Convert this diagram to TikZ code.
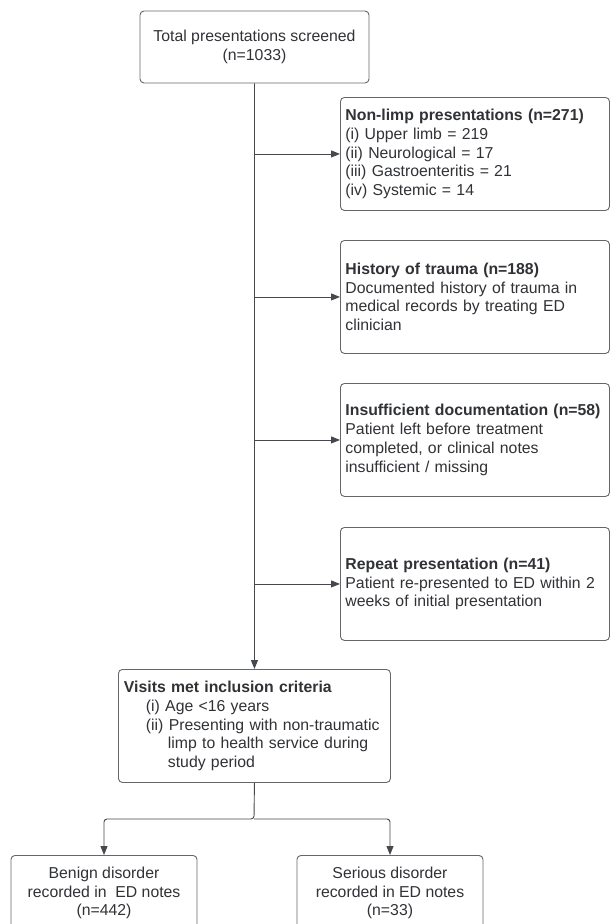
\documentclass[tikz,border=0pt]{standalone}
\usepackage{fontspec}
\setmainfont{Liberation Sans}
\usetikzlibrary{arrows.meta,positioning}
\definecolor{linegray}{HTML}{45484C}
\definecolor{boxgray}{HTML}{63666A}
\definecolor{txtgray}{HTML}{303236}

\begin{document}
\begin{tikzpicture}[x=1pt,y=-1pt,>={Triangle[length=9pt,width=7pt]},
  every node/.style={font=\fontsize{15.8}{18.7}\selectfont,text=txtgray},
  fbox/.style={draw=boxgray,rounded corners=4pt,line width=0.9pt},
  sidebox/.style={fbox,anchor=north west,minimum width=269pt,minimum height=113pt,
    inner xsep=5pt,text width=259pt,align=left}]
\useasboundingbox[fill=white] (0,0) rectangle (610,924);

% screening
\node[fbox,minimum width=229pt,minimum height=72pt,align=center] (total) at (254.5,47)
  {Total presentations screened\\(n=1033)};

% exclusions
\node[sidebox] (nonlimp) at (340,97) {\textbf{Non-limp presentations (n=271)}\\
  (i) Upper limb = 219\\(ii) Neurological = 17\\(iii) Gastroenteritis = 21\\(iv) Systemic = 14};
\node[sidebox] (trauma) at (340,240) {\textbf{History of trauma (n=188)}\\
  Documented history of trauma in\\medical records by treating ED\\clinician};
\node[sidebox] (docs) at (340,383) {\textbf{Insufficient documentation (n=58)}\\
  Patient left before treatment\\completed, or clinical notes\\insufficient / missing};
\node[sidebox] (repeatp) at (340,527) {\textbf{Repeat presentation (n=41)}\\
  Patient re-presented to ED within 2\\weeks of initial presentation};

% included
\node[fbox,anchor=north west,minimum width=272pt,minimum height=113pt,
  text width=261pt,align=left] (incl) at (118,669)
  {\textbf{Visits met inclusion criteria}\\
   \hspace*{22pt}(i) Age <16 years\\
   \hspace*{22pt}(ii) Presenting with non-traumatic\\
   \hspace*{44pt}limp to health service during\\
   \hspace*{44pt}study period};

% outcomes
\node[fbox,anchor=north,minimum width=186pt,minimum height=75pt,align=center] (benign) at (104,855)
  {Benign disorder\\recorded in\ \ ED notes\\(n=442)};
\node[fbox,anchor=north,minimum width=186pt,minimum height=75pt,align=center] (serious) at (390,855)
  {Serious disorder\\recorded in ED notes\\(n=33)};

\draw[linegray,line width=0.9pt,->] (total.south) -- (incl.north);
\foreach \b in {nonlimp,trauma,docs,repeatp}
  \draw[linegray,line width=0.9pt,->] (total.south |- \b.west) -- (\b.west);

\coordinate (split) at (254,819);
\draw[linegray,line width=0.9pt,->,rounded corners=3pt] (incl.south) -- (split) -| (benign.north);
\draw[linegray,line width=0.9pt,->,rounded corners=3pt] (split) -| (serious.north);
\end{tikzpicture}
\end{document}
